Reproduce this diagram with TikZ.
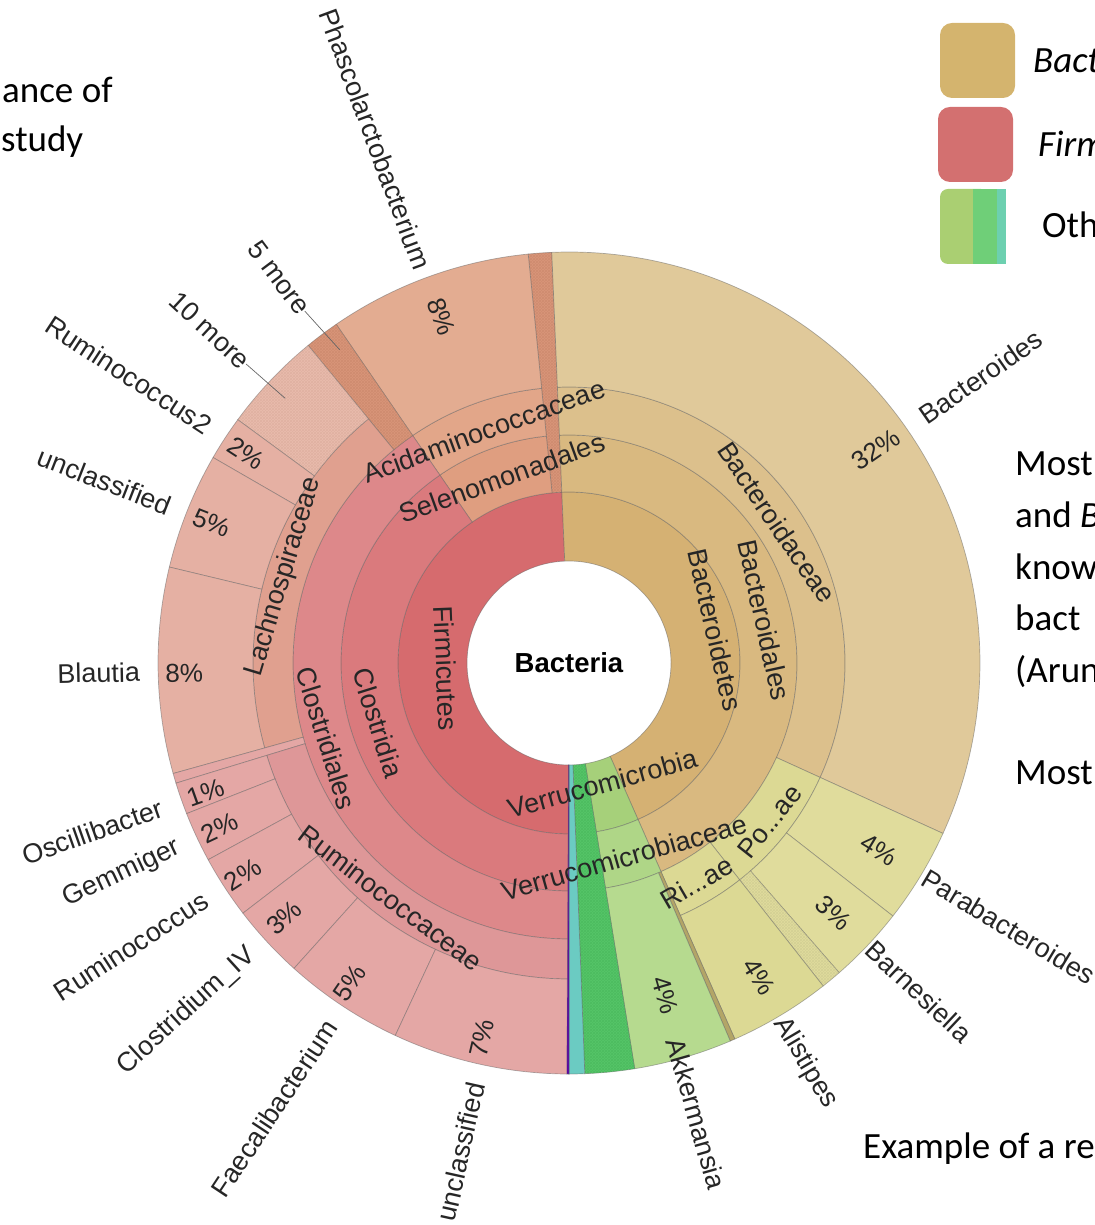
\documentclass[tikz,border=0pt]{standalone}
\usepackage{fontspec}
\setmainfont{Liberation Sans}
\newfontfamily\calfont{Carlito}
\usetikzlibrary{patterns}
\definecolor{firmA}{HTML}{D66B6E}
\definecolor{firmB}{HTML}{DA7A7D}
\definecolor{firmC}{HTML}{DD888A}
\definecolor{lachD}{HTML}{E0A08F}
\definecolor{lachE}{HTML}{E5B0A3}
\definecolor{rumiD}{HTML}{DE9798}
\definecolor{rumiE}{HTML}{E4A7A5}
\definecolor{seleB}{HTML}{DF9E80}
\definecolor{seleC}{HTML}{E2A689}
\definecolor{seleE}{HTML}{E3AC91}
\definecolor{moreO}{HTML}{D8967A}
\definecolor{moreOd}{HTML}{C98467}
\definecolor{moreP}{HTML}{E9BCAD}
\definecolor{morePd}{HTML}{D9A898}
\definecolor{bactA}{HTML}{D5B173}
\definecolor{bactB}{HTML}{D9B980}
\definecolor{bactC}{HTML}{DCC08C}
\definecolor{bactE}{HTML}{E0C99A}
\definecolor{porC}{HTML}{DCD994}
\definecolor{porE}{HTML}{E0DC9C}
\definecolor{porD}{HTML}{C9C690}
\definecolor{verA}{HTML}{A6D07A}
\definecolor{verB}{HTML}{AFD687}
\definecolor{verE}{HTML}{B6DA8F}
\definecolor{dgreen}{HTML}{55C668}
\definecolor{dgreenD}{HTML}{48B45A}
\definecolor{cyanK}{HTML}{6BCBC2}
\definecolor{oliveK}{HTML}{B3A567}
\definecolor{legTan}{HTML}{D4B46E}
\definecolor{legRed}{HTML}{D37070}
\definecolor{legLg}{HTML}{AACF72}
\definecolor{legG}{HTML}{6FCF78}
\definecolor{legC}{HTML}{6DD0B0}
\tikzset{
  slice/.style={draw=black!60,draw opacity=0.5,line width=0.7pt},
  hatched/.style={postaction={pattern=crosshatch,pattern color=#1}},
  lbl/.style={inner sep=0pt,text=black!85,font=\fontsize{27}{27}\selectfont},
  pct/.style={inner sep=0pt,text=black!85,font=\fontsize{26}{26}\selectfont},
  side/.style={inner sep=0pt,font=\calfont\fontsize{37}{37}\selectfont}
}
\newcommand{\kslice}[5]{\filldraw[slice,#5] (#1:#3pt) arc[start angle=#1,end angle=#2,radius=#3pt] -- (#2:#4pt) arc[start angle=#2,end angle=#1,radius=#4pt] -- cycle;}
\begin{document}
\begin{tikzpicture}[x=1pt,y=1pt]
\useasboundingbox (-569,-562) rectangle (525,663);
\clip (-569,-562) rectangle (525,663);
\kslice{92.4}{270}{102}{171}{fill=firmA}
\kslice{92.4}{95.7}{171}{411}{fill=moreO,hatched=moreOd}
\kslice{95.7}{124.5}{171}{228}{fill=seleB}
\kslice{95.7}{124.5}{228}{276}{fill=seleC}
\kslice{95.7}{124.5}{276}{411}{fill=seleE}
\kslice{124.5}{270}{171}{228}{fill=firmB}
\kslice{124.5}{270}{228}{276}{fill=firmC}
\kslice{124.5}{129.4}{276}{411}{fill=moreO,hatched=moreOd}
\kslice{129.4}{195.6}{276}{316}{fill=lachD}
\kslice{129.4}{143.7}{316}{411}{fill=moreP,hatched=morePd}
\kslice{143.7}{150}{316}{411}{fill=lachE}
\kslice{150}{166.5}{316}{411}{fill=lachE}
\kslice{166.5}{195.6}{316}{411}{fill=lachE}
\kslice{195.6}{197}{276}{411}{fill=rumiE}
\kslice{197}{270}{276}{316}{fill=rumiD}
\kslice{197}{201.5}{316}{411}{fill=rumiE}
\kslice{201.5}{208.6}{316}{411}{fill=rumiE}
\kslice{208.6}{217.5}{316}{411}{fill=rumiE}
\kslice{217.5}{228}{316}{411}{fill=rumiE}
\kslice{228}{245}{316}{411}{fill=rumiE}
\kslice{245}{270}{316}{411}{fill=rumiE}
\kslice{-66.2}{92.4}{102}{171}{fill=bactA}
\kslice{-66.2}{92.4}{171}{228}{fill=bactB}
\kslice{-24.5}{92.4}{228}{276}{fill=bactC}
\kslice{-24.5}{92.4}{276}{411}{fill=bactE}
\kslice{-51.8}{-24.5}{228}{276}{fill=porC}
\kslice{-38}{-24.5}{276}{411}{fill=porE}
\kslice{-48.9}{-38}{276}{411}{fill=porE}
\kslice{-51.8}{-48.9}{276}{411}{fill=porE,hatched=porD}
\kslice{-66.2}{-51.8}{228}{276}{fill=porC}
\kslice{-66.2}{-51.8}{276}{411}{fill=porC}
\kslice{-66.9}{-66.2}{228}{411}{fill=oliveK}
\kslice{-80.8}{-66.2}{102}{171}{fill=verA}
\kslice{-80.8}{-66.2}{171}{228}{fill=verB}
\kslice{-80.8}{-66.9}{228}{411}{fill=verE}
\kslice{-87.8}{-80.8}{102}{411}{fill=dgreen,hatched=dgreenD}
\kslice{-90}{-87.8}{102}{411}{fill=cyanK}
\kslice{-90.3}{-90}{102}{411}{fill=violet!70!blue}
\node[font=\bfseries\fontsize{27.5}{27.5}\selectfont] (ctr) at (0,0) {Bacteria};
\node[lbl] (tFir) at (182.3:123pt) [rotate=272.3] {Firmicutes};
\node[lbl] (tBde) at (12.7:150pt) [rotate=-77.3] {Bacteroidetes};
\node[lbl] (tVer) at (-74.6:125pt) [rotate=15.4] {Verrucomicrobia};
\node[lbl] (tCla) at (197.4:200pt) [rotate=287.4] {Clostridia};
\node[lbl] (tSel) at (109.9:197pt) [rotate=19.9] {Selenomonadales};
\node[lbl] (tBal) at (12.4:200pt) [rotate=-77.6] {Bacteroidales};
\node[lbl] (tVac) at (-74.2:202pt) [rotate=15.8] {Verrucomicrobiaceae};
\node[lbl] (tClo) at (197.2:254pt) [rotate=287.2] {Clostridiales};
\node[lbl] (tAci) at (110.1:247pt) [rotate=20.1] {Acidaminococcaceae};
\node[lbl] (tBac) at (34.1:251pt) [rotate=-55.9] {Bacteroidaceae};
\node[lbl] (tRik) at (-59.8:254pt) [rotate=30.2] {Ri...ae};
\node[lbl] (tPor) at (-38.3:256pt) [rotate=51.7] {Po...ae};
\node[lbl] (tLac) at (163.2:298pt) [rotate=73.2] {Lachnospiraceae};
\node[lbl] (tRum) at (232.9:295pt) [rotate=322.9] {Ruminococcaceae};
\node[pct] (pPha) at (110.3:369pt) [rotate=-69.7] {8\%};
\node[pct] (pRu2) at (147:385pt) [rotate=-33] {2\%};
\node[pct] (pUnL) at (158.6:384pt) [rotate=-21.4] {5\%};
\node[pct] (pBla) at (181.5:385pt) [rotate=1.5] {8\%};
\node[pct] (pOsc) at (199.6:386pt) [rotate=19.6] {1\%};
\node[pct] (pGem) at (205.3:386pt) [rotate=25.3] {2\%};
\node[pct] (pRum) at (213:389pt) [rotate=33] {2\%};
\node[pct] (pCl4) at (221.8:382pt) [rotate=41.8] {3\%};
\node[pct] (pFae) at (235.6:388pt) [rotate=55.6] {5\%};
\node[pct] (pUnR) at (256.9:385pt) [rotate=76.9] {7\%};
\node[pct] (pBcd) at (34.8:374pt) [rotate=34.8] {32\%};
\node[pct] (pPar) at (-31.1:362pt) [rotate=-31.1] {4\%};
\node[pct] (pBar) at (-43.4:364pt) [rotate=-43.4] {3\%};
\node[pct] (pAli) at (-58.8:367pt) [rotate=-58.8] {4\%};
\node[pct] (pAkk) at (-73.9:346pt) [rotate=-73.9] {4\%};
\node[lbl,anchor=east] (gPha) at (110.3:421pt) [rotate=-69.7] {Phascolarctobacterium};
\node[lbl,anchor=east] (gM5) at (126.9:440pt) [rotate=-53.1] {5 more};
\node[lbl,anchor=east] (gM10) at (137.2:440pt) [rotate=-42.8] {10 more};
\node[lbl,anchor=east] (gRu2) at (146.8:430pt) [rotate=-33.2] {Ruminococcus2};
\node[lbl,anchor=east] (gUnL) at (158.6:428pt) [rotate=-21.4] {unclassified};
\node[lbl,anchor=east] (gBla) at (181.2:429pt) [rotate=1.2] {Blautia};
\node[lbl,anchor=east] (gOsc) at (199.5:432pt) [rotate=19.5] {Oscillibacter};
\node[lbl,anchor=east] (gGem) at (205.2:431pt) [rotate=25.2] {Gemmiger};
\node[lbl,anchor=east] (gRum) at (212.9:433pt) [rotate=32.9] {Ruminococcus};
\node[lbl,anchor=east] (gCl4) at (222.3:429pt) [rotate=42.3] {Clostridium\_IV};
\node[lbl,anchor=east] (gFae) at (236.5:431pt) [rotate=56.5] {Faecalibacterium};
\node[lbl,anchor=east] (gUnR) at (257.5:430pt) [rotate=77.5] {unclassified};
\node[lbl,anchor=west] (gAkk) at (-74.2:390pt) [rotate=-74.2] {Akkermansia};
\node[lbl,anchor=west] (gAli) at (-59.4:414pt) [rotate=-59.4] {Alistipes};
\node[lbl,anchor=west] (gBar) at (-43.2:413pt) [rotate=-43.2] {Barnesiella};
\node[lbl,anchor=west] (gPar) at (-31:414pt) [rotate=-31] {Parabacteroides};
\node[lbl,anchor=west] (gBcd) at (34.8:430pt) [rotate=34.8] {Bacteroides};
\coordinate (m5end) at (126.2:388pt);
\coordinate (m10end) at (137:388pt);
\draw[black!60,line width=0.7pt] (gM5.east) -- (m5end);
\draw[black!60,line width=0.7pt] (gM10.east) -- (m10end);
\fill[legTan,rounded corners=12pt] (371,565) rectangle (446,640);
\fill[legRed,rounded corners=12pt] (369,481) rectangle (444,556);
\fill[legLg,rounded corners=8pt] (371,399) rectangle (420,474);
\fill[legG] (404,399) rectangle (428,474);
\fill[legC] (428,399) rectangle (437,474);
\node[side,anchor=base west] (kBact) at (464,590) {\textit{Bact}};
\node[side,anchor=base west] (kFirm) at (469,506) {\textit{Firm}};
\node[side,anchor=base west] (kOth) at (473,425) {Oth};
\node[side,anchor=base west] (sAnce) at (-567,560) {ance of};
\node[side,anchor=base west] (sStudy) at (-568,511) {study};
\node[side,anchor=base west] (rMost) at (446,187) {Most};
\node[side,anchor=base west] (rAnd) at (446,135) {and \textit{B}};
\node[side,anchor=base west] (rKnow) at (446,83) {know};
\node[side,anchor=base west] (rBact) at (446,32) {bact};
\node[side,anchor=base west] (rArun) at (446,-20) {(Arun};
\node[side,anchor=base west] (rMost2) at (446,-121) {Most};
\node[side,anchor=base west] (rEx) at (294,-495) {Example of a re};
\end{tikzpicture}
\end{document}
